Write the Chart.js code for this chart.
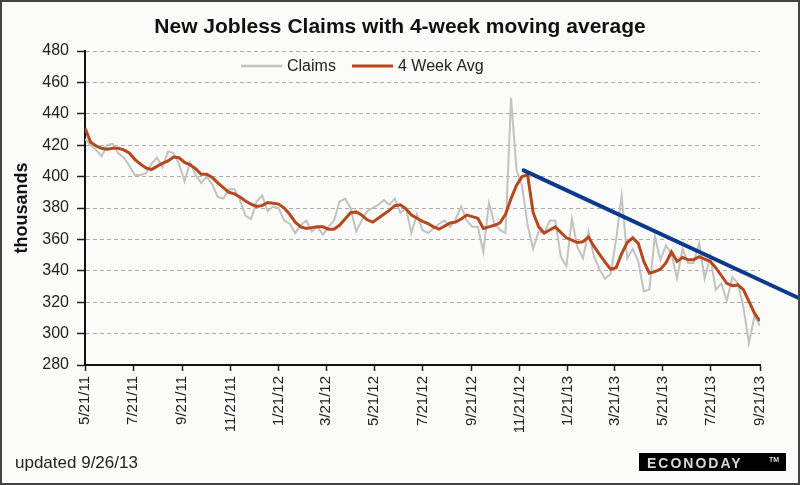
<!DOCTYPE html>
<html>
<head>
<meta charset="utf-8">
<script src="https://cdn.jsdelivr.net/npm/chart.js@4.4.1/dist/chart.umd.min.js"></script>
<style>
  html, body { margin: 0; padding: 0; background: #fff; }
  canvas { display: block; }
</style>
</head>
<body>
<canvas id="claimsChart" width="800" height="485"></canvas>
<script>
// weekly data, first week ending 5/21/11
const firstWeek = '5/21/11';

const claims = [
  424, 420, 417, 413, 420, 421, 415, 412, 407, 401,
  401, 402, 408, 412, 406, 416, 415, 408, 397, 409,
  401, 396, 400, 395, 387, 386, 392, 392, 385, 375,
  373, 384, 388, 378, 381, 380, 372, 370, 364, 369,
  372, 365, 368, 363, 368, 372, 384, 386, 380, 365,
  372, 378, 380, 382, 385, 382, 386, 377, 380, 364,
  376, 366, 364, 367, 370, 372, 368, 373, 381, 372,
  368, 368, 352, 383, 370, 366, 364, 450, 404, 394,
  369, 354, 365, 364, 372, 372, 349, 343, 373, 355,
  348, 365, 349, 341, 335, 338, 360, 388, 348, 354,
  346, 327, 328, 362, 347, 356, 351, 335, 354, 345,
  345, 358, 335, 349, 328, 332, 321, 336, 332, 317,
  294, 311, 305
];

const avg4wk = [
  431, 422, 419.5, 418, 417.5, 418, 418, 417, 415, 411,
  408, 405.5, 404.5, 406.5, 408.5, 410, 412.5, 412, 409, 407.5,
  405, 401.5, 401.5, 399.5, 396, 393, 390, 389, 387, 384.5,
  382.5, 381, 381.5, 383.5, 383, 382.5, 380, 376, 371, 368,
  367, 367.5, 368, 368, 366.5, 366.5, 369, 373, 377, 377.5,
  375.5, 372.5, 371, 373.5, 376, 378.5, 381.5, 382, 379.5, 375.5,
  373.5, 371.5, 370, 368, 366.5, 368.5, 370.5, 371, 373, 375.5,
  374.5, 373.5, 367, 368, 369, 370.5, 376, 386, 394.5, 400,
  401, 377, 368, 364, 366, 368, 364.5, 361, 359.5, 358,
  358.5, 361.5, 355.5, 350.5, 345.5, 341, 342, 351, 358, 361,
  357.5, 346, 338.5, 339.5, 341, 345, 352, 346, 348.5, 347,
  347, 349, 347.5, 346, 342, 337, 332, 330.5, 331, 328,
  320.5, 313, 308
];

const tickLabels = [
  '5/21/11', '7/21/11', '9/21/11', '11/21/11', '1/21/12', '3/21/12', '5/21/12',
  '7/21/12', '9/21/12', '11/21/12', '1/21/13', '3/21/13', '5/21/13', '7/21/13', '9/21/13'
];

// hand drawn trend line
const trendDates = ['11/26/12', '12/1/13'];
const trendValues = [404, 317.5];

function toUTC(label) {
  const [m, d, y] = label.split('/').map(Number);
  return Date.UTC(2000 + y, m - 1, d);
}
const t0 = toUTC(firstWeek);
function dayOf(label) {
  return Math.round((toUTC(label) - t0) / 86400000);
}

const tickDays = tickLabels.map(dayOf);
const claimsPts = claims.map((v, i) => ({ x: i * 7, y: v }));
const avgPts = avg4wk.map((v, i) => ({ x: i * 7, y: v }));
const trendPts = trendDates.map((d, i) => ({ x: dayOf(d), y: trendValues[i] }));

const FONT = '"Liberation Sans", Arial, sans-serif';

const extras = {
  id: 'extras',
  beforeDraw(chart) {
    const ctx = chart.ctx;
    ctx.save();
    ctx.fillStyle = '#fbfbfa';
    ctx.fillRect(0, 0, chart.width, chart.height);
    ctx.restore();
  },
  afterDraw(chart) {
    const ctx = chart.ctx;
    ctx.save();

    // title, centred on the whole picture
    ctx.fillStyle = '#111';
    ctx.font = 'bold 21px ' + FONT;
    ctx.textAlign = 'center';
    ctx.textBaseline = 'alphabetic';
    ctx.fillText('New Jobless Claims with 4-week moving average', 400, 33);

    // legend inside the plot
    ctx.lineWidth = 2.5;
    ctx.strokeStyle = '#c2c2c2';
    ctx.beginPath(); ctx.moveTo(241, 66); ctx.lineTo(282, 66); ctx.stroke();
    ctx.lineWidth = 3;
    ctx.strokeStyle = '#b5481c';
    ctx.beginPath(); ctx.moveTo(352, 66); ctx.lineTo(393, 66); ctx.stroke();
    ctx.fillStyle = '#222';
    ctx.font = '16px ' + FONT;
    ctx.textBaseline = 'middle';
    ctx.textAlign = 'left';
    ctx.fillText('Claims', 287, 67);
    ctx.fillText('4 Week Avg', 398, 67);

    // footer
    ctx.font = '17px ' + FONT;
    ctx.textBaseline = 'alphabetic';
    ctx.fillText('updated 9/26/13', 15, 468);

    ctx.fillStyle = '#000';
    ctx.fillRect(639, 453, 147, 18);
    ctx.fillStyle = '#d8d8d8';
    ctx.font = 'bold 14px ' + FONT;
    ctx.letterSpacing = '2px';
    ctx.fillText('ECONODAY', 647, 468);
    ctx.letterSpacing = '0px';
    ctx.font = 'bold 7px ' + FONT;
    ctx.fillText('TM', 769, 462);

    // frame
    ctx.lineWidth = 2;
    ctx.strokeStyle = '#444';
    ctx.strokeRect(1, 1, chart.width - 2, chart.height - 2);
    ctx.restore();
  }
};

new Chart(document.getElementById('claimsChart'), {
  type: 'line',
  data: {
    datasets: [
      {
        label: 'Trend',
        data: trendPts,
        borderColor: '#0b3a8c',
        borderWidth: 4,
        borderCapStyle: 'round',
        pointRadius: 0,
        clip: false,
        order: 0
      },
      {
        label: '4 Week Avg',
        data: avgPts,
        borderColor: '#b5481c',
        borderWidth: 3,
        pointRadius: 0,
        tension: 0,
        order: 1
      },
      {
        label: 'Claims',
        data: claimsPts,
        borderColor: '#c2c2c2',
        borderWidth: 2,
        pointRadius: 0,
        tension: 0,
        order: 2
      }
    ]
  },
  options: {
    responsive: false,
    animation: false,
    devicePixelRatio: 1,
    layout: { padding: { left: 0, right: 40, top: 51, bottom: 0 } },
    plugins: {
      legend: { display: false },
      tooltip: { enabled: false },
      title: { display: false }
    },
    scales: {
      x: {
        type: 'linear',
        min: 0,
        max: tickDays[tickDays.length - 1],
        afterBuildTicks(scale) {
          scale.ticks = tickDays.map(v => ({ value: v }));
        },
        afterFit(scale) { scale.height = 120; },
        ticks: {
          autoSkip: false,
          maxRotation: 90,
          minRotation: 90,
          padding: 5,
          color: '#222',
          font: { family: FONT, size: 15 },
          callback(value, index) { return tickLabels[index]; }
        },
        grid: { drawOnChartArea: false, tickLength: 6, tickColor: '#222', tickWidth: 1.5 },
        border: { color: '#111', width: 2 }
      },
      y: {
        min: 280,
        max: 480,
        afterFit(scale) { scale.width = 85; },
        ticks: {
          stepSize: 20,
          padding: 8,
          color: '#222',
          font: { family: FONT, size: 16 }
        },
        grid: {
          color: ctx => (ctx.tick && ctx.tick.value === 280) ? 'rgba(0,0,0,0)' : '#adadad',
          lineWidth: 1,
          tickLength: 8,
          tickColor: '#222',
          tickWidth: 1.5
        },
        border: { color: '#111', width: 2, dash: [4, 3] },
        title: {
          display: true,
          text: 'thousands',
          color: '#111',
          font: { family: FONT, size: 18, weight: 'bold' },
          padding: { top: 11, bottom: 0 }
        }
      }
    }
  },
  plugins: [extras]
});
</script>
</body>
</html>
